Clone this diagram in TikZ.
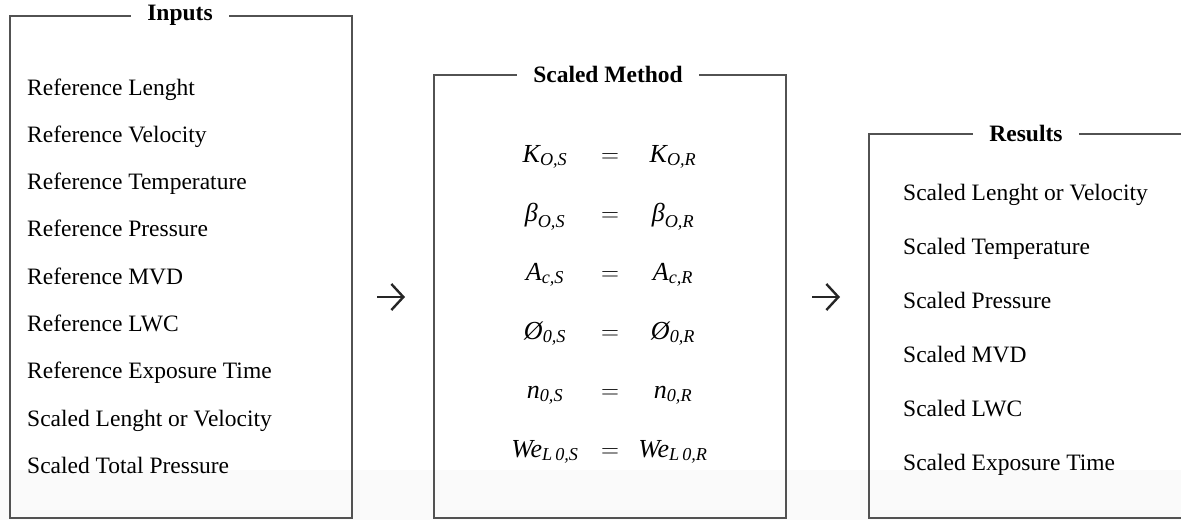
\documentclass[tikz,border=0pt]{standalone}
\usepackage{fontspec}
\usepackage{amsmath}
\setmainfont{Liberation Serif}
\usetikzlibrary{arrows.meta}
\tikzset{
  panel/.style={draw=black!68, line width=2pt, minimum width=#1, anchor=north west, inner sep=0pt},
  paneltitle/.style={fill=white, inner xsep=16pt, inner ysep=2pt, font=\fontsize{23.5}{28}\selectfont\bfseries},
  item/.style={anchor=base west, inner sep=0pt, font=\fontsize{23.5}{28}\selectfont},
  eqterm/.style={anchor=base, inner sep=0pt, font=\fontsize{26}{30}\selectfont},
  flow/.style={line width=2.4pt, black!85, -{Straight Barb[length=12pt, width=26pt, line width=2.4pt]}}
}
\begin{document}
\begin{tikzpicture}[x=1pt, y=-1pt]
\useasboundingbox (0,0) rectangle (1181,520);
\clip (0,0) rectangle (1181,520);
\fill[black!2] (0,470) rectangle (1181,520);
% Inputs panel
\node[panel=342pt, minimum height=502pt] (inputs) at (9,15) {};
\node[paneltitle] (inputsT) at (180,15) {Inputs};
\foreach \t [count=\i from 0] in {Reference Lenght, Reference Velocity, Reference Temperature, Reference Pressure, Reference MVD, Reference LWC, Reference Exposure Time, Scaled Lenght or Velocity, Scaled Total Pressure}
  \node[item] (in\i) at (27, 95+47.3*\i) {\t};
% Scaled Method panel
\node[panel=352pt, minimum height=443pt] (method) at (433,74) {};
\node[paneltitle] (methodT) at (608,74) {Scaled Method};
\foreach \l/\r [count=\i from 0] in {
  {$\textit{K}_{\textit{O,S}}$}/{$\textit{K}_{\textit{O,R}}$},
  {$\textit{β}_{\textit{O,S}}$}/{$\textit{β}_{\textit{O,R}}$},
  {$\textit{A}_{\textit{c,S}}$}/{$\textit{A}_{\textit{c,R}}$},
  {$\textit{Ø}_{\textit{0,S}}$}/{$\textit{Ø}_{\textit{0,R}}$},
  {$\textit{n}_{\textit{0,S}}$}/{$\textit{n}_{\textit{0,R}}$},
  {$\textit{We}_{\textit{L\,0,S}}$}/{$\textit{We}_{\textit{L\,0,R}}$}}
{
  \node[eqterm] (eqL\i) at (545, 162+59*\i) {\l};
  \node[eqterm] (eqE\i) at (610, 162+59*\i) {$=$};
  \node[eqterm] (eqR\i) at (673, 162+59*\i) {\r};
}
% Results panel
\node[panel=340pt, minimum height=384pt] (results) at (868,133) {};
\node[paneltitle] (resultsT) at (1026,133) {Results};
\foreach \t [count=\i from 0] in {Scaled Lenght or Velocity, Scaled Temperature, Scaled Pressure, Scaled MVD, Scaled LWC, Scaled Exposure Time}
  \node[item] (res\i) at (903, 200+54*\i) {\t};
% arrows
\coordinate (a1s) at (377,297);
\coordinate (a1e) at (405,297);
\coordinate (a2s) at (812,297);
\coordinate (a2e) at (840,297);
\draw[flow] (a1s) -- (a1e);
\draw[flow] (a2s) -- (a2e);
\end{tikzpicture}
\end{document}
